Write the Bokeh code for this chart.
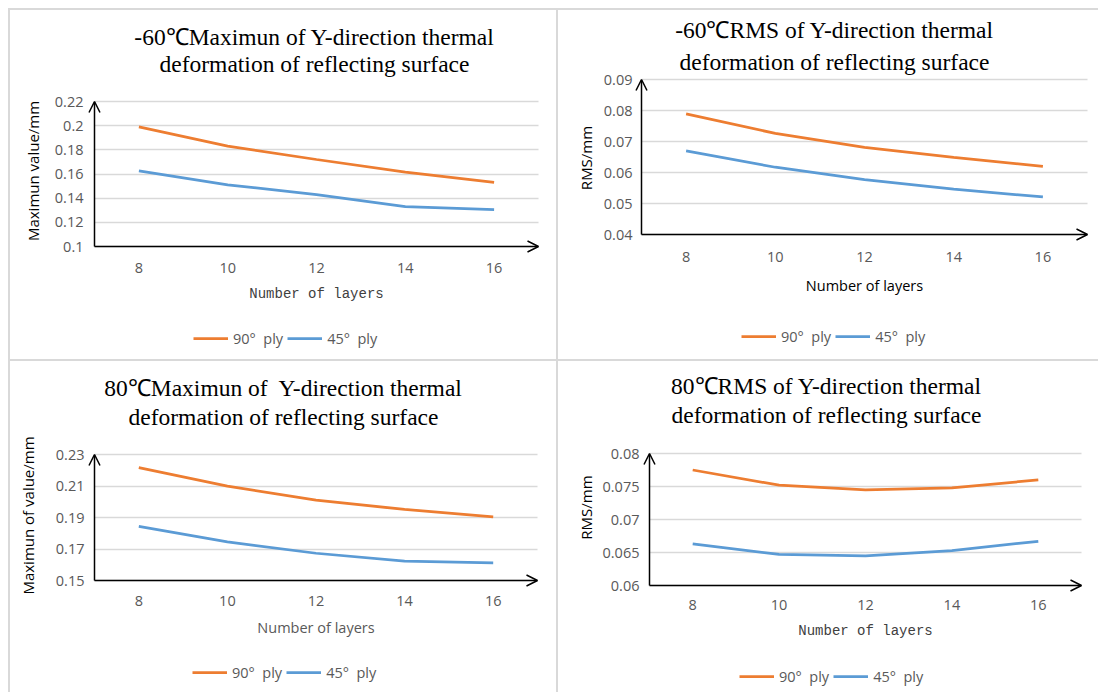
from bokeh.plotting import figure
from bokeh.models import (Range1d, FixedTicker, NumeralTickFormatter, Legend, LegendItem,
                          Label, Arrow, OpenHead, Div, Grid, BoxAnnotation)
from bokeh.layouts import column, row
from bokeh.embed import file_html
from bokeh.resources import INLINE

# ---------------- data ----------------
layers = [8, 10, 12, 14, 16]
series_labels = ["90°\u00a0 ply", "45°\u00a0 ply"]

max_m60_90 = [0.199, 0.183, 0.172, 0.1615, 0.153]
max_m60_45 = [0.1625, 0.151, 0.143, 0.133, 0.1305]
rms_m60_90 = [0.0789, 0.0726, 0.0681, 0.0649, 0.0620]
rms_m60_45 = [0.0670, 0.0617, 0.0577, 0.0546, 0.0521]
max_80_90 = [0.2217, 0.2099, 0.201, 0.1951, 0.1904]
max_80_45 = [0.1843, 0.1745, 0.1673, 0.1623, 0.1612]
rms_80_90 = [0.0775, 0.0752, 0.0745, 0.0748, 0.0760]
rms_80_45 = [0.0663, 0.0647, 0.0645, 0.0653, 0.0667]

yticks_max_m60 = [0.1, 0.12, 0.14, 0.16, 0.18, 0.2, 0.22]
yticks_rms_m60 = [0.04, 0.05, 0.06, 0.07, 0.08, 0.09]
yticks_max_80 = [0.15, 0.17, 0.19, 0.21, 0.23]
yticks_rms_80 = [0.06, 0.065, 0.07, 0.075, 0.08]

titles = [
    ["-60℃Maximun of Y-direction thermal", "deformation of reflecting surface"],
    ["-60℃RMS of Y-direction thermal", "deformation of reflecting surface"],
    ["80℃Maximun of\u00a0 Y-direction thermal", "deformation of reflecting surface"],
    ["80℃RMS of Y-direction thermal", "deformation of reflecting surface"],
]
y_titles = ["Maximun value/mm", "RMS/mm", "Maximun of value/mm", "RMS/mm"]
x_title = "Number of layers"

ORANGE = "#ED7D31"
BLUE = "#5B9BD5"
GRID = "#d9d9d9"
SANS = "Open Sans"
MONO = "Liberation Mono"
SERIF = "Liberation Serif"

# layout, in pixels inside each panel: plot box (L, R, T, B), title centre x and baselines,
# legend left/bottom, label stand-offs, y-title shift
panels = [
    dict(s90=max_m60_90, s45=max_m60_45, yticks=yticks_max_m60, title=titles[0], ytitle=y_titles[0],
         w=546, h=349, box=(84, 528, 91, 236), tx=304, tb=(26.5, 53.5), leg=(183, 338),
         ytick_so=11, ylab_so=9, ylab_up=3, xtick_so=16, xlab_so=10,
         xfont=MONO, xsize="14px", xcolor="#404040"),
    dict(s90=rms_m60_90, s45=rms_m60_45, yticks=yticks_rms_m60, title=titles[1], ytitle=y_titles[1],
         w=540, h=349, box=(83, 529, 69, 224), tx=276, tb=(19, 51), leg=(183, 336),
         ytick_so=9, ylab_so=5, ylab_up=-1, xtick_so=17, xlab_so=11,
         xfont=SANS, xsize="14.5px", xcolor="#000000"),
    dict(s90=max_80_90, s45=max_80_45, yticks=yticks_max_80, title=titles[2], ytitle=y_titles[2],
         w=546, h=331, box=(84, 527, 93, 219), tx=273, tb=(26, 55), leg=(182, 321),
         ytick_so=10, ylab_so=15, ylab_up=2, xtick_so=15, xlab_so=9,
         xfont=SANS, xsize="14.5px", xcolor="#595959"),
    dict(s90=rms_80_90, s45=rms_80_45, yticks=yticks_rms_80, title=titles[3], ytitle=y_titles[3],
         w=540, h=331, box=(91, 523, 92, 224), tx=268, tb=(24, 53.5), leg=(181, 325),
         ytick_so=10, ylab_so=4, ylab_up=12, xtick_so=14, xlab_so=10,
         xfont=MONO, xsize="14px", xcolor="#404040"),
]

HAS_CROSS_BOUNDS = "cross_bounds" in Grid.properties()


def make_panel(cfg):
    x_lo, x_hi = layers[0] - 1, layers[-1] + 1
    y_lo, y_hi = cfg["yticks"][0], cfg["yticks"][-1]
    L, R, T, B = cfg["box"]
    w, h = cfg["w"], cfg["h"]
    xpp = (x_hi - x_lo) / (R - L)
    ypp = (y_hi - y_lo) / (B - T)
    x_range = Range1d(x_lo - L * xpp, x_hi + (w - R) * xpp)
    y_range = Range1d(y_lo - (h - B) * ypp, y_hi + T * ypp)

    p = figure(width=w, height=h, x_range=x_range, y_range=y_range,
               output_backend="svg", toolbar_location=None,
               min_border=0, min_border_left=0, min_border_right=0,
               min_border_top=0, min_border_bottom=0)
    p.outline_line_color = None
    p.background_fill_color = "white"
    p.border_fill_color = "white"
    p.xgrid.visible = False
    p.ygrid.grid_line_color = GRID
    p.ygrid.grid_line_width = 1.5
    if HAS_CROSS_BOUNDS:
        p.ygrid.cross_bounds = (x_lo, x_hi)
    else:
        p.add_layout(BoxAnnotation(left=x_range.start, right=x_lo, fill_color="white",
                                   fill_alpha=1, line_alpha=0, level="underlay"))
        p.add_layout(BoxAnnotation(left=x_hi, right=x_range.end, fill_color="white",
                                   fill_alpha=1, line_alpha=0, level="underlay"))

    p.xaxis.ticker = FixedTicker(ticks=layers)
    p.yaxis.ticker = FixedTicker(ticks=cfg["yticks"])
    p.yaxis.formatter = NumeralTickFormatter(format="0.[000]")
    p.xaxis.fixed_location = y_lo
    p.yaxis.fixed_location = x_lo
    p.xaxis.bounds = (x_lo, x_hi)
    up = cfg["ylab_up"] * 2 * ypp
    p.yaxis.bounds = (y_lo + min(up, 0), y_hi + max(up, 0))
    for ax in (p.xaxis, p.yaxis):
        ax.major_tick_out = 0
        ax.major_tick_in = 0
        ax.minor_tick_out = 0
        ax.minor_tick_in = 0
        ax.axis_line_color = None
        ax.major_label_text_font = SANS
        ax.major_label_text_font_size = "14.5px"
        ax.major_label_text_color = "#595959"
        ax.axis_label_text_font_style = "normal"
    p.yaxis.major_label_standoff = cfg["ytick_so"]
    p.xaxis.major_label_standoff = cfg["xtick_so"]
    p.yaxis.axis_label = cfg["ytitle"]
    p.yaxis.axis_label_text_font = SANS
    p.yaxis.axis_label_text_font_size = "15px"
    p.yaxis.axis_label_text_color = "black"
    p.yaxis.axis_label_standoff = cfg["ylab_so"]
    p.xaxis.axis_label = x_title
    p.xaxis.axis_label_text_font = cfg["xfont"]
    p.xaxis.axis_label_text_font_size = cfg["xsize"]
    p.xaxis.axis_label_text_color = cfg["xcolor"]
    p.xaxis.axis_label_standoff = cfg["xlab_so"]

    r90 = p.line(layers, cfg["s90"], line_color=ORANGE, line_width=2.75)
    r45 = p.line(layers, cfg["s45"], line_color=BLUE, line_width=2.75)

    # axis lines with open arrow heads
    p.add_layout(Arrow(end=OpenHead(size=11, line_width=1.5, line_color="black"),
                       x_start=x_lo, y_start=y_lo, x_end=x_lo, y_end=y_hi,
                       line_width=1.5, line_color="black"))
    p.add_layout(Arrow(end=OpenHead(size=11, line_width=1.5, line_color="black"),
                       x_start=x_lo, y_start=y_lo, x_end=x_hi, y_end=y_lo,
                       line_width=1.5, line_color="black"))

    lx, lb = cfg["leg"]
    legend = Legend(items=[LegendItem(label=series_labels[0], renderers=[r90]),
                           LegendItem(label=series_labels[1], renderers=[r45])],
                    location=(lx, h - lb), orientation="horizontal",
                    glyph_width=35, glyph_height=20, label_standoff=5, spacing=4,
                    padding=0, margin=0, border_line_color=None, background_fill_alpha=0,
                    label_text_font=SANS, label_text_font_size="14.5px",
                    label_text_color="#595959")
    p.add_layout(legend)

    for line_text, base in zip(cfg["title"], cfg["tb"]):
        p.add_layout(Label(x=cfg["tx"], y=h - base, x_units="screen", y_units="screen",
                           text=line_text, text_align="center", text_baseline="alphabetic",
                           text_font=SERIF, text_font_size="23.5px", text_color="black"))
    return p


figs = [make_panel(c) for c in panels]


def block(w, h, color):
    return Div(text="", width=w, height=h, margin=0, styles={"background-color": color})


grid_w = 2 + panels[0]["w"] + 2 + panels[1]["w"]
h1, h2 = panels[0]["h"], panels[2]["h"]
page = column(
    block(8 + grid_w, 8, "white"),
    row(block(8, 2, "white"), block(grid_w, 2, GRID), spacing=0),
    row(block(8, h1, "white"), block(2, h1, GRID), figs[0], block(2, h1, GRID), figs[1], spacing=0),
    row(block(8, 2, "white"), block(grid_w, 2, GRID), spacing=0),
    row(block(8, h2, "white"), block(2, h2, GRID), figs[2], block(2, h2, GRID), figs[3], spacing=0),
    spacing=0,
)

open("out.html", "w").write(file_html(page, INLINE))
